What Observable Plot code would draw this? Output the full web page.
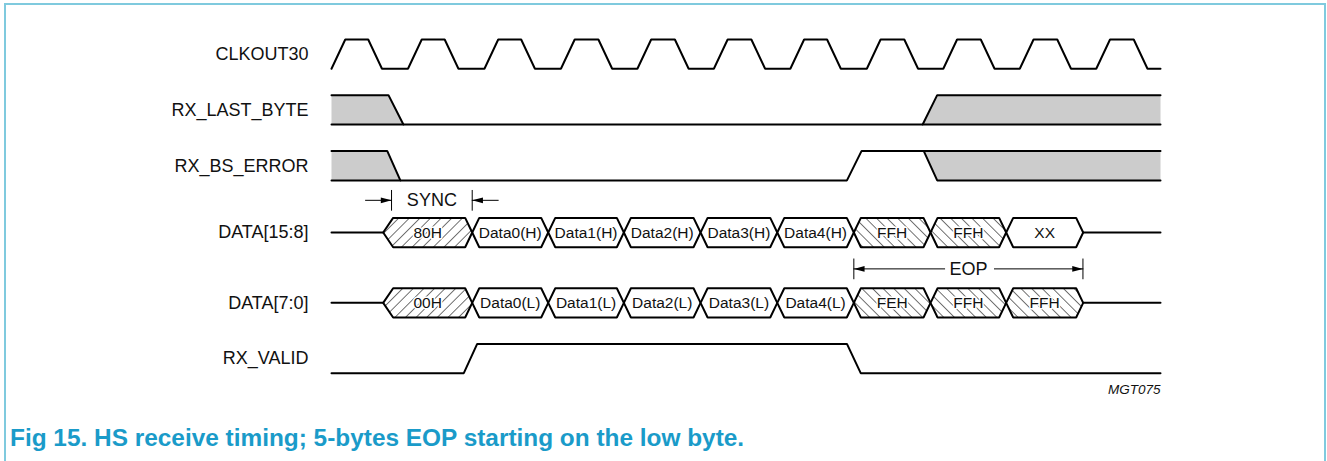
<!DOCTYPE html>
<html><head><meta charset="utf-8">
<script src="https://cdn.jsdelivr.net/npm/d3@7"></script>
<script src="https://cdn.jsdelivr.net/npm/@observablehq/plot@0.6"></script>
<style>
html,body{margin:0;padding:0;background:#fff;}
body{width:1327px;height:461px;position:relative;overflow:hidden;font-family:"Liberation Sans",Arial,sans-serif;}
#frame{position:absolute;left:4px;top:3px;width:1322px;height:500px;border:2px solid #7fcade;border-bottom:none;box-sizing:border-box;}
#chart{position:absolute;left:0;top:0;}
#caption{position:absolute;left:10px;top:424px;line-height:28px;font-weight:bold;font-size:24.4px;color:#1a9bc9;white-space:pre;}
</style></head>
<body>
<div id="frame"></div>
<div id="chart"></div>
<div id="caption">Fig 15. HS receive timing; 5-bytes EOP starting on the low byte.</div>
<script>
// ---- data (time in CLKOUT30 periods, levels 0 = low, 1 = high) ----
const signals = ["CLKOUT30", "RX_LAST_BYTE", "RX_BS_ERROR", "DATA[15:8]", "DATA[7:0]", "RX_VALID"];
const tEnd = 10.84;
const clkRise = [0, 1, 2, 3, 4, 5, 6, 7, 8, 9, 10];
const clkFall = [0.48, 1.48, 2.48, 3.49, 4.49, 5.49, 6.48, 7.49, 8.49, 9.49, 10.49];
const lastByteWave = [[0, 1], [0.745, 1], [0.94, 0], [7.73, 0], [7.92, 1], [10.84, 1]];
const lastByteGray = [[[0, 1], [0.745, 1], [0.94, 0], [0, 0]], [[7.73, 0], [7.92, 1], [10.84, 1], [10.84, 0]]];
const lastByteEdges = [[[0, 0], [0.94, 0]], [[7.73, 0], [10.84, 0]]];
const bsErrorWave = [[0, 1], [0.73, 1], [0.90, 0], [6.74, 0], [6.93, 1], [7.745, 1], [7.92, 0], [10.84, 0]];
const bsErrorGray = [[[0, 1], [0.73, 1], [0.90, 0], [0, 0]], [[7.745, 1], [10.84, 1], [10.84, 0], [7.92, 0]]];
const bsErrorEdges = [[[0, 0], [0.90, 0]], [[7.745, 1], [10.84, 1]]];
const rxValidWave = [[0, 0], [1.73, 0], [1.905, 1], [6.74, 1], [6.92, 0], [10.84, 0]];
const busCross = [0.676, 1.84, 2.834, 3.823, 4.826, 5.829, 6.83, 7.833, 8.822, 9.829];
const busHighLabels = ["80H", "Data0(H)", "Data1(H)", "Data2(H)", "Data3(H)", "Data4(H)", "FFH", "FFH", "XX"];
const busHighKinds = ["sync", "data", "data", "data", "data", "data", "eop", "eop", "data"];
const busLowLabels = ["00H", "Data0(L)", "Data1(L)", "Data2(L)", "Data3(L)", "Data4(L)", "FEH", "FFH", "FFH"];
const busLowKinds = ["sync", "data", "data", "data", "data", "data", "eop", "eop", "eop"];
const syncSpan = [0.785, 1.84];
const eopSpan = [6.83, 9.826];
const figCode = "MGT075";

// ---- layout (not data) ----
const laneBase = [10.39, 8.49, 6.58, 4.30, 1.90, 0];
const edge = 0.18, slope = 0.092, slopeIn = 0.13;
const fillOf = {sync: "url(#hatchSync)", eop: "url(#hatchEop)", data: "white"};

const lines = [], grays = [], thin = [], heads = [];
let nid = 0;
function add(arr, lane, pts) { const id = nid++; pts.forEach(([t, l]) => arr.push({id, t, y: laneBase[lane] + l})); }

// clock
const clkPts = [];
clkRise.forEach((r, i) => clkPts.push([r, 0], [r + edge, 1], [clkFall[i], 1], [clkFall[i] + edge, 0]));
clkPts.push([tEnd, 0]);
add(lines, 0, clkPts);
// last byte
lastByteGray.forEach(p => add(grays, 1, p));
add(lines, 1, lastByteWave);
lastByteEdges.forEach(p => add(lines, 1, p));
// bs error
bsErrorGray.forEach(p => add(grays, 2, p));
add(lines, 2, bsErrorWave);
bsErrorEdges.forEach(p => add(lines, 2, p));
// rx valid
add(lines, 5, rxValidWave);

// buses
const busPolys = [], busText = [];
function bus(lane, labels, kinds) {
  add(lines, lane, [[0, 0.5], [busCross[0], 0.5]]);
  add(lines, lane, [[busCross[labels.length], 0.5], [tEnd, 0.5]]);
  labels.forEach((lab, i) => {
    const t0 = busCross[i], t1 = busCross[i + 1], s0 = i === 0 ? slopeIn : slope;
    const id = nid++, b = laneBase[lane];
    [[t0, 0.5], [t0 + s0, 1], [t1 - slope, 1], [t1, 0.5], [t1 - slope, 0], [t0 + s0, 0], [t0, 0.5]]
      .forEach(([t, l]) => busPolys.push({id, t, y: b + l, kind: kinds[i]}));
    busText.push({t: (t0 + t1) / 2, y: b + 0.5, text: lab});
  });
}
bus(3, busHighLabels, busHighKinds);
bus(4, busLowLabels, busLowKinds);

// annotations
const syncY = laneBase[3] + 1.6, eopY = laneBase[4] + 1.66;
const tickH = 0.34, headL = 0.14, headW = 0.1;
function tick(t, y) { const id = nid++; thin.push({id, t, y: y - tickH}, {id, t, y: y + tickH}); }
function shaft(t0, t1, y) { const id = nid++; thin.push({id, t: t0, y}, {id, t: t1, y}); }
function head(tip, dir, y) { const id = nid++; heads.push({id, t: tip, y}, {id, t: tip - dir * headL, y: y + headW}, {id, t: tip - dir * headL, y: y - headW}); }
tick(syncSpan[0], syncY); tick(syncSpan[1], syncY);
shaft(syncSpan[0] - 0.34, syncSpan[0], syncY); head(syncSpan[0], 1, syncY);
shaft(syncSpan[1], syncSpan[1] + 0.34, syncY); head(syncSpan[1], -1, syncY);
const eopMid = (eopSpan[0] + eopSpan[1]) / 2;
tick(eopSpan[0], eopY); tick(eopSpan[1], eopY);
shaft(eopSpan[0], eopMid - 0.31, eopY); head(eopSpan[0], -1, eopY);
shaft(eopMid + 0.34, eopSpan[1], eopY); head(eopSpan[1], 1, eopY);
const annText = [
  {t: (syncSpan[0] + syncSpan[1]) / 2, y: syncY, text: "SYNC"},
  {t: eopMid, y: eopY, text: "EOP"}
];
const laneText = signals.map((s, i) => ({t: -0.30, y: laneBase[i] + 0.5, text: s}));

const chart = Plot.plot({
  width: 1327, height: 400,
  marginLeft: 331, marginRight: 167, marginTop: 0, marginBottom: 0,
  x: {domain: [0, tEnd], axis: null},
  y: {domain: [-0.932, 12.72], axis: null},
  style: {background: "transparent", overflow: "visible", fontFamily: "'Liberation Sans', Arial, sans-serif"},
  marks: [
    Plot.line(grays, {x: "t", y: "y", z: "id", fill: "#cccccc", stroke: "none", curve: "linear-closed"}),
    Plot.line(busPolys.filter(d => d.kind === "data"), {x: "t", y: "y", z: "id", fill: fillOf.data, stroke: "#000", strokeWidth: 2, strokeLinejoin: "miter"}),
    Plot.line(busPolys.filter(d => d.kind === "sync"), {x: "t", y: "y", z: "id", fill: fillOf.sync, stroke: "#000", strokeWidth: 2, strokeLinejoin: "miter"}),
    Plot.line(busPolys.filter(d => d.kind === "eop"), {x: "t", y: "y", z: "id", fill: fillOf.eop, stroke: "#000", strokeWidth: 2, strokeLinejoin: "miter"}),
    Plot.line(lines, {x: "t", y: "y", z: "id", stroke: "#000", strokeWidth: 2, strokeLinejoin: "miter"}),
    Plot.line(thin, {x: "t", y: "y", z: "id", stroke: "#000", strokeWidth: 1}),
    Plot.line(heads, {x: "t", y: "y", z: "id", fill: "#000", stroke: "none", curve: "linear-closed"}),
    Plot.text(busText, {x: "t", y: "y", text: "text", fontSize: 15.5, fill: "#111", stroke: "white", strokeWidth: 3, paintOrder: "stroke"}),
    Plot.text(annText, {x: "t", y: "y", text: "text", fontSize: 18, fill: "#111", stroke: "white", strokeWidth: 4, paintOrder: "stroke"}),
    Plot.text(laneText, {x: "t", y: "y", text: "text", fontSize: 18, fill: "#111", textAnchor: "end"}),
    Plot.text([{t: tEnd, y: -0.56, text: figCode}], {x: "t", y: "y", text: "text", fontSize: 13.5, fontStyle: "italic", fill: "#111", textAnchor: "end"})
  ]
});
const ns = "http://www.w3.org/2000/svg";
const defs = document.createElementNS(ns, "defs");
defs.innerHTML =
  '<pattern id="hatchSync" patternUnits="userSpaceOnUse" width="7.5" height="7.5" patternTransform="rotate(45)">' +
  '<rect width="7.5" height="7.5" fill="white"/><line x1="0" y1="0" x2="0" y2="7.5" stroke="#000" stroke-width="1.1"/></pattern>' +
  '<pattern id="hatchEop" patternUnits="userSpaceOnUse" width="7.5" height="7.5" patternTransform="rotate(-45)">' +
  '<rect width="7.5" height="7.5" fill="white"/><line x1="0" y1="0" x2="0" y2="7.5" stroke="#000" stroke-width="1.1"/></pattern>';
chart.insertBefore(defs, chart.firstChild);
document.getElementById("chart").appendChild(chart);
</script>
</body></html>
